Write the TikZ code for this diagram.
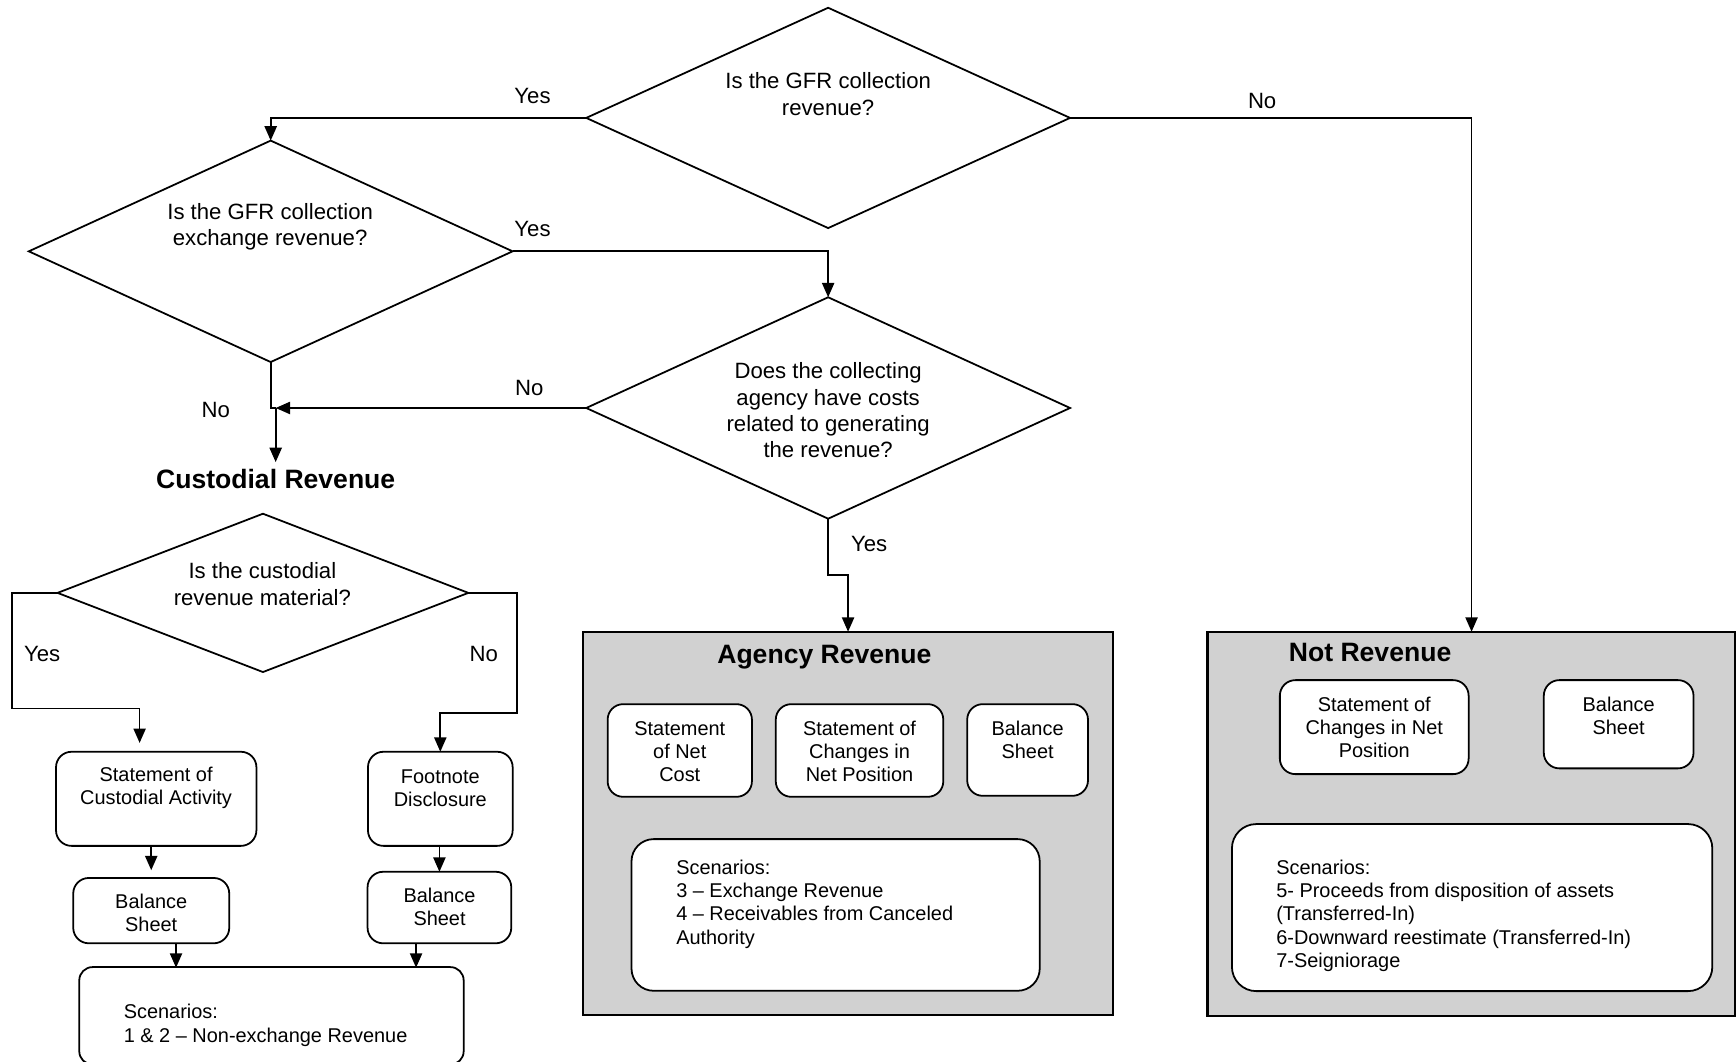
\documentclass[tikz,border=0pt]{standalone}
\usepackage{fontspec}
\setmainfont{Liberation Sans}
\usetikzlibrary{shapes.geometric}
\usetikzlibrary{arrows.meta}
\usetikzlibrary{calc}

\begin{document}
\begin{tikzpicture}[x=0.5pt,y=-0.5pt,>={Triangle[length=6.5pt,width=5.5pt]},line width=0.8pt,
    decision node/.style={diamond,draw,inner sep=0pt,outer sep=0pt},
    question/.style={align=center,font=\fontsize{10}{11.8}\selectfont,inner sep=0pt},
    box node/.style={rectangle,draw,rounded corners=7pt,fill=white,inner sep=0pt,outer sep=0pt},
    scen node/.style={box node,rounded corners=10pt},
    group node/.style={rectangle,draw,fill=black!18,line width=1.1pt,inner sep=0pt,outer sep=0pt},
    box text/.style={align=center,font=\fontsize{9}{10.4}\selectfont,inner sep=0pt},
    scen text/.style={align=left,anchor=west,font=\fontsize{9}{10.5}\selectfont,inner sep=0pt},
    head text/.style={font=\fontsize{12}{14}\selectfont\bfseries,inner sep=0pt},
    answer/.style={font=\fontsize{10}{12}\selectfont,inner sep=0pt}]
  \useasboundingbox (0,0) rectangle (1568,959);

  % decisions
  \node[decision node,minimum width=218.5pt,minimum height=99.5pt] (d1) at (748,106.5) {};
  \node[decision node,minimum width=218.5pt,minimum height=100pt] (d2) at (244.5,227) {};
  \node[decision node,minimum width=218.5pt,minimum height=100pt] (d3) at (748,368.5) {};
  \node[decision node,minimum width=185.5pt,minimum height=71.5pt] (d4) at (237.5,535.5) {};
  \node[question] (q1) at (748,85) {Is the GFR collection\\revenue?};
  \node[question] (q2) at (244,205) {Is the GFR collection\\exchange revenue?};
  \node[question] (q3) at (748,370.5) {Does the collecting\\agency have costs\\related to generating\\the revenue?};
  \node[question] (q4) at (237,527.5) {Is the custodial\\revenue material?};

  % custodial side
  \node[head text,inner sep=3pt] (cust) at (249,433) {Custodial Revenue};
  \node[box node,minimum width=90.5pt,minimum height=42.5pt] (sca) at (141.1,721.5) {};
  \node[box node,minimum width=65.35pt,minimum height=42.5pt] (fd) at (397.7,721.5) {};
  \node[box node,minimum width=70.45pt,minimum height=29.5pt] (bs1) at (136.6,822.5) {};
  \node[box node,minimum width=64.9pt,minimum height=32.3pt] (bs2) at (396.9,819.7) {};
  \node[scen node,rounded corners=6pt,minimum width=173.6pt,minimum height=44pt] (sc1) at (245.2,917.5) {};
  \node[box text] at (141,712) {Statement of\\Custodial Activity};
  \node[box text] at (397.7,712) {Footnote\\Disclosure};
  \node[box text] at (136.6,824.5) {Balance\\Sheet};
  \node[box text] at (397,819) {Balance\\Sheet};
  \node[scen text] at (111,926) {Scenarios:\\1 \& 2 -- Non-exchange Revenue};

  % agency revenue
  \node[group node,minimum width=239.25pt,minimum height=173.15pt] (ag) at (766,743.75) {};
  \node[head text] at (744.6,594) {Agency Revenue};
  \node[box node,minimum width=65.15pt,minimum height=41.85pt] (snc) at (614,677.85) {};
  \node[box node,minimum width=75.65pt,minimum height=41.85pt] (scnp) at (776.35,677.85) {};
  \node[box node,minimum width=54.55pt,minimum height=41.4pt] (bsa) at (928.15,677.4) {};
  \node[scen node,minimum width=184.35pt,minimum height=68.5pt] (sca2) at (754.75,826.4) {};
  \node[box text] at (614,678.5) {Statement\\of Net\\Cost};
  \node[box text] at (776.35,678.5) {Statement of\\Changes in\\Net Position};
  \node[box text] at (928.15,668) {Balance\\Sheet};
  \node[scen text] at (610,816.5) {Scenarios:\\3 -- Exchange Revenue\\4 -- Receivables from Canceled\\Authority};

  % not revenue
  \node[group node,minimum width=238.35pt,minimum height=173.45pt] (nr) at (1329.15,744.05) {};
  \node[head text] at (1237.5,589) {Not Revenue};
  \node[box node,minimum width=85.25pt,minimum height=42.45pt] (scnpn) at (1241.25,656.75) {};
  \node[box node,minimum width=67.6pt,minimum height=39.85pt] (bsn) at (1462,654.15) {};
  \node[scen node,rounded corners=11pt,minimum width=216.95pt,minimum height=75.45pt] (scn) at (1329.65,819.75) {};
  \node[box text] at (1241.25,656.8) {Statement of\\Changes in Net\\Position};
  \node[box text] at (1462,646.5) {Balance\\Sheet};
  \node[scen text] at (1152,827) {Scenarios:\\5- Proceeds from disposition of assets\\(Transferred-In)\\6-Downward reestimate (Transferred-In)\\7-Seigniorage};

  % connectors
  \coordinate (join) at (249,368.5);
  \coordinate (yes bend) at (11,640);
  \coordinate (no bend) at (467,644);
  \coordinate (in1) at (159,874);
  \coordinate (in2) at (375.8,874);
  \draw[->] (d1.west) -| (d2.north);
  \draw[->] (d1.east) -| (nr.north);
  \draw[->] (d2.east) -| (d3.north);
  \draw (d2.south) |- (join);
  \draw[->] (d3.west) -- (join);
  \draw[->] (join) -- (cust.north);
  \draw[->] (d3.south) -- ++(0,51) -| (ag.north);
  \draw[->,shorten >=4pt] (d4.west) -| (yes bend) -| ($(sca.north)+(-15,0)$);
  \draw[->] (d4.east) -| (no bend) -| (fd.north);
  \draw[->,shorten >=3.5pt] (sca.south -| bs1.north) -- (bs1.north);
  \draw[->] (fd.south -| bs2.north) -- (bs2.north);
  \draw[->] (bs1.south -| in1) -- (in1);
  \draw[->] (bs2.south -| in2) -- (in2);

  % answers
  \node[answer] at (481,87) {Yes};
  \node[answer] at (1140,91) {No};
  \node[answer] at (481,207) {Yes};
  \node[answer] at (478,350) {No};
  \node[answer] at (195,370) {No};
  \node[answer] at (785,491) {Yes};
  \node[answer] at (38,591) {Yes};
  \node[answer] at (437,591) {No};
\end{tikzpicture}
\end{document}
